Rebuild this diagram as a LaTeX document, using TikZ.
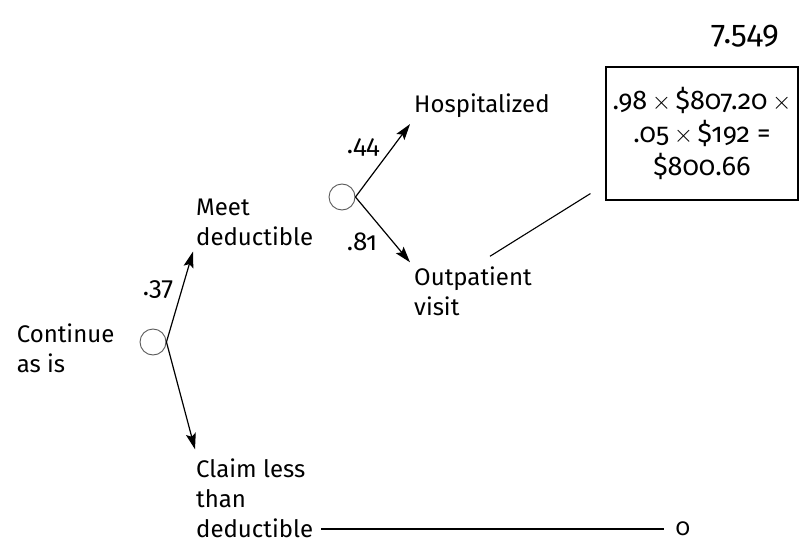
\documentclass[tikz,border=0pt]{standalone}
\usepackage{fontspec}
\setmainfont[Numbers=OldStyle]{Fira Sans}
\usetikzlibrary{arrows.meta, positioning}

\begin{document}
\begin{tikzpicture}[x=1pt, y=-1pt,
    chance/.style={circle, draw=black!65, line width=0.9pt, minimum size=26pt, inner sep=0pt},
    outcome/.style={align=left, inner sep=0pt, font=\fontsize{24}{30}\selectfont},
    prob/.style={inner sep=0pt, font=\fontsize{26}{30}\selectfont},
    arr/.style={-{Stealth[length=16pt, width=10pt, inset=3pt]}, line width=1.2pt},
    payoffbox/.style={draw, line width=1.1pt, minimum width=192pt, minimum height=133pt, align=center, font=\fontsize{27}{33}\selectfont}
]
\useasboundingbox (0,0) rectangle (799,545);

\node[prob, font=\fontsize{32}{32}\selectfont] (page) at (745,36) {7.549};

% first decision point
\node[chance] (c1) at (153,342) {};
\node[outcome, left=25pt of c1, yshift=-6pt] (cont) {Continue\\as is};
\node[outcome, anchor=west] (meet)  at (196,222) {Meet\\deductible};
\node[outcome, anchor=west] (claim) at (196,498) {Claim less\\than\\deductible};

\draw[arr] (c1.east) -- ([xshift=-3pt,yshift=-6pt]meet.south west);
\draw[arr] (c1.east) -- ([xshift=-1pt,yshift=9pt]claim.north west);
\node[prob] (p37) at (158,290) {.37};

% second chance node
\node[chance] (c2) at (342,197) {};
\node[outcome, anchor=west] (hosp) at (414,106) {Hospitalized};
\node[outcome, anchor=west] (outp) at (414,291) {Outpatient\\visit};

\draw[arr] (c2.east) -- ([xshift=-4pt,yshift=-6pt]hosp.south west);
\draw[arr] (c2.east) -- ([xshift=-4pt,yshift=4pt]outp.north west);
\node[prob] (p44) at (363,147) {.44};
\node[prob] (p81) at (362,242) {.81};

% payoffs
\node[payoffbox] (payoff) at (702,133.5) {.98\,$\times$\,\$807.20\,$\times$\\.05\,$\times$\,\$192 =\\\$800.66};
\draw[line width=1.1pt] ([xshift=17pt,yshift=10pt]outp.north) -- ([xshift=-15pt,yshift=7pt]payoff.south west);

\node[prob, font=\fontsize{24}{30}\selectfont] (zero) at (683,529) {0};
\draw[line width=1.2pt, shorten <=8pt, shorten >=12pt] (claim.east |- zero.west) -- (zero.west);
\end{tikzpicture}
\end{document}
